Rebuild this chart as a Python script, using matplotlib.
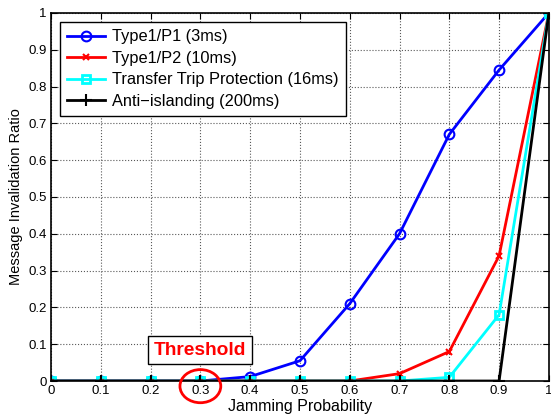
import matplotlib.pyplot as plt
from matplotlib.patches import Ellipse

plt.rcParams['font.family'] = ['Liberation Sans', 'DejaVu Sans']

prob = [0, 0.1, 0.2, 0.3, 0.4, 0.5, 0.6, 0.7, 0.8, 0.9, 1.0]
p1 = [0, 0, 0, 0, 0.012, 0.055, 0.21, 0.40, 0.67, 0.845, 1.0]
p2 = [0, 0, 0, 0, 0, 0, 0, 0.02, 0.08, 0.34, 1.0]
ttp = [0, 0, 0, 0, 0, 0, 0, 0, 0.01, 0.18, 1.0]
anti = [0, 0, 0, 0, 0, 0, 0, 0, 0, 0, 1.0]
tick_labels = ['0', '0.1', '0.2', '0.3', '0.4', '0.5', '0.6', '0.7', '0.8', '0.9', '1']

fig = plt.figure(figsize=(5.51, 4.18), dpi=100)
ax = fig.add_axes([0.0926, 0.0885, 0.9035, 0.8805])

ax.plot(prob, p1, color='blue', lw=2, marker='o', ms=7, mfc='none', mew=1.5,
        label='Type1/P1 (3ms)')
ax.plot(prob, p2, color='red', lw=2, marker='x', ms=5, mew=1.5,
        label='Type1/P2 (10ms)')
ax.plot(prob, ttp, color='cyan', lw=2, marker='s', ms=5.5, mfc='none', mew=2,
        label='Transfer Trip Protection (16ms)')
ax.plot(prob, anti, color='black', lw=2, marker='+', ms=8, mew=1.5,
        label='Anti\u2212islanding (200ms)')

ax.set_xlim(0, 1)
ax.set_ylim(0, 1)
ax.set_xticks(prob)
ax.set_xticklabels(tick_labels)
ax.set_yticks(prob)
ax.set_yticklabels(tick_labels)
ax.tick_params(direction='in', labelsize=9.5, length=4, top=True, right=True, pad=3)
ax.grid(True, linestyle=':', color='0.35', lw=0.8)
for s in ax.spines.values():
    s.set_linewidth(1.2)

ax.set_xlabel('Jamming Probability', fontsize=11.5, labelpad=1)
ax.set_ylabel('Message Invalidation Ratio', fontsize=10.5, labelpad=4)

leg = ax.legend(loc='upper left', fontsize=11.8, fancybox=False, framealpha=1,
                edgecolor='black', handlelength=2.3, borderaxespad=0.55,
                labelspacing=0.4, borderpad=0.45, handletextpad=0.4)
leg.get_frame().set_linewidth(1.0)

ax.text(0.3, 0.084, 'Threshold', color='red', fontsize=13.8, fontweight='bold',
        ha='center', va='center',
        bbox=dict(boxstyle='square,pad=0.3', fc='white', ec='black', lw=1))
ax.add_patch(Ellipse((0.3, -0.014), 0.082, 0.09, fill=False, ec='red', lw=2,
                     clip_on=False, zorder=5))

fig.savefig('out.png', dpi=100)
